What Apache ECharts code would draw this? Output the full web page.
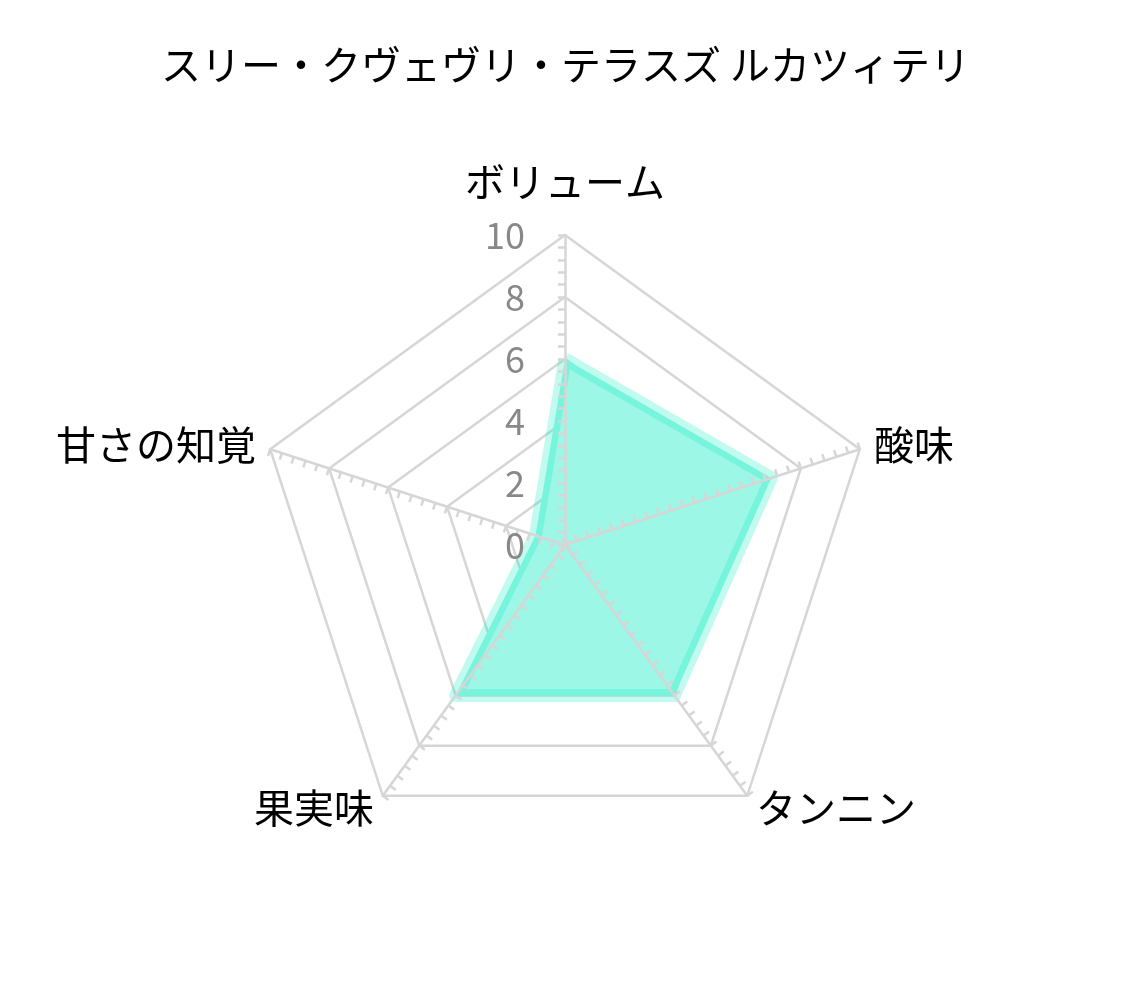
<!DOCTYPE html>
<html>
<head>
<meta charset="utf-8">
<script src="https://cdn.jsdelivr.net/npm/echarts@6/dist/echarts.min.js"></script>
<style>
  html, body { margin: 0; padding: 0; background: #fff; }
  #chart { width: 1131px; height: 990px; }
</style>
</head>
<body>
<div id="chart"></div>
<script>
// echarts lays radar indicators out counterclockwise, so the list runs
// top, upper-left, lower-left, lower-right, upper-right
const titleText = 'スリー・クヴェヴリ・テラスズ ルカツィテリ';
const indicatorNames = ['ボリューム', '甘さの知覚', '果実味', 'タンニン', '酸味'];
const indicatorMax = 10;
const scores = [6, 1, 6, 6, 7];

const gridColor = '#d6d6d6';
const tealLine = 'rgba(7, 235, 193, 0.25)';
const tealFill = '#9cf7e6';
const CENTER = [565, 545];
const RADIUS = 310;

var chart = echarts.init(document.getElementById('chart'));

// back radar: rings + names, sits under the filled polygon
var backIndicators = indicatorNames.map(function (name) {
  return { name: name, min: 0, max: indicatorMax };
});

// front radar: spokes, ticks and the 0..10 labels, drawn over the polygon
var frontIndicators = indicatorNames.map(function (name, i) {
  return {
    name: name,
    min: 0,
    max: indicatorMax,
    axisLabel: { show: i === 0 },
    minorTick: {
      show: true,
      splitNumber: 5,
      length: 7,
      lineStyle: { color: gridColor, width: 2.5 }
    }
  };
});

chart.setOption({
  animation: false,
  title: {
    text: titleText,
    left: 'center',
    top: 40,
    textStyle: {
      fontFamily: 'Noto Sans CJK JP',
      fontSize: 40,
      fontWeight: 'normal',
      color: '#000'
    }
  },
  radar: [{
    center: CENTER,
    radius: RADIUS,
    startAngle: 90,
    splitNumber: 5,
    shape: 'polygon',
    indicator: backIndicators,
    nameGap: 15,
    axisName: {
      fontFamily: 'Noto Sans CJK JP',
      fontSize: 40,
      color: '#000',
      formatter: function (name) {
        return name === indicatorNames[0] ? '{up|' + name + '}' : name;
      },
      rich: {
        up: {
          fontFamily: 'Noto Sans CJK JP',
          fontSize: 40,
          color: '#000',
          padding: [0, 0, 18, 0]
        }
      }
    },
    axisLine: { show: false },
    axisTick: { show: false },
    axisLabel: { show: false },
    splitLine: {
      lineStyle: { color: gridColor, width: 2.5 }
    },
    splitArea: { show: false }
  }, {
    z: 5,
    center: CENTER,
    radius: RADIUS,
    startAngle: 90,
    splitNumber: 5,
    shape: 'polygon',
    indicator: frontIndicators,
    axisName: { show: false },
    splitLine: { show: false },
    splitArea: { show: false },
    axisLine: {
      lineStyle: { color: gridColor, width: 2.5 }
    },
    axisTick: {
      show: true,
      length: 7,
      lineStyle: { color: gridColor, width: 2.5 }
    },
    axisLabel: {
      show: true,
      margin: 40,
      fontFamily: 'Noto Sans CJK JP',
      fontSize: 36,
      color: '#888'
    }
  }],
  series: [{
    // opaque fill first, so it hides the rings
    type: 'radar',
    radarIndex: 0,
    symbol: 'none',
    data: [{
      value: scores,
      lineStyle: { width: 0, opacity: 0 },
      areaStyle: { color: tealFill, opacity: 1 }
    }]
  }, {
    // wide see-through outline on top of the fill
    type: 'radar',
    radarIndex: 0,
    symbol: 'none',
    data: [{
      value: scores,
      lineStyle: {
        width: 13,
        join: 'round',
        color: tealLine
      }
    }]
  }]
});
</script>
</body>
</html>
